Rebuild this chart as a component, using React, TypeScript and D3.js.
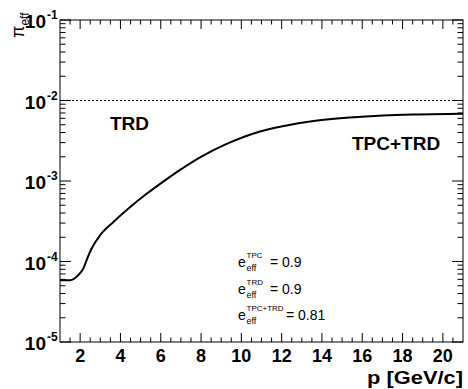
import React from "react";
import * as d3 from "d3";

const momentum = [1.0, 1.5, 1.91, 2.16, 2.32, 2.57, 2.99, 3.65, 4.47, 5.3, 6.21, 6.96, 7.95, 9.27, 10.93, 12.25, 13.41, 15.39, 17.03, 18.72, 21.0];
const piEff = [5.87e-5, 5.87e-5, 6.78e-5, 8.2e-5, 1.04e-4, 1.45e-4, 2.12e-4, 3.1e-4, 4.72e-4, 6.93e-4, 1.019e-3, 1.375e-3, 1.965e-3, 2.889e-3, 4.126e-3, 4.9e-3, 5.49e-3, 6.155e-3, 6.52e-3, 6.71e-3, 6.84e-3];
const xTicks = [2, 4, 6, 8, 10, 12, 14, 16, 18, 20];
const yExponents = [-1, -2, -3, -4, -5];
const referenceLevel = 1e-2;
const annotations = [
  { sup: "TPC", value: "= 0.9" },
  { sup: "TRD", value: "= 0.9" },
  { sup: "TPC+TRD", value: "= 0.81" },
];

const W = 468, H = 389;
const L = 60, R = 463, T = 20, B = 342;
const FONT = "'Liberation Sans', Arial, Helvetica, sans-serif";

export default function App() {
  const x = d3.scaleLinear().domain([1, 21]).range([L, R]);
  const y = d3.scaleLog().domain([1e-5, 1e-1]).range([B, T]);

  const line = d3
    .line<number>()
    .x((_, i) => x(momentum[i]))
    .y((d) => y(d))
    .curve(d3.curveMonotoneX);

  const minorX: number[] = [];
  for (let v = 1.5; v < 21; v += 0.5) if (v % 2 !== 0) minorX.push(v);
  const minorY: number[] = [];
  for (let e = -5; e < -1; e++) for (let k = 2; k <= 9; k++) minorY.push(k * Math.pow(10, e));

  return (
    <svg width={W} height={H} style={{ position: "absolute", left: 0, top: 0, background: "#fff" }} fontFamily={FONT}>
      <rect x={0} y={0} width={W} height={H} fill="#fff" />
      <rect x={L} y={T} width={R - L} height={B - T} fill="none" stroke="#000" strokeWidth={1} />
      {xTicks.map((v) => (
        <g key={"xt" + v}>
          <line x1={x(v)} x2={x(v)} y1={B} y2={B - 9} stroke="#000" />
          <line x1={x(v)} x2={x(v)} y1={T} y2={T + 9} stroke="#000" />
          <text x={x(v)} y={362} textAnchor="middle" fontSize={18} fontWeight="bold">{v}</text>
        </g>
      ))}
      {minorX.map((v) => (
        <g key={"xm" + v}>
          <line x1={x(v)} x2={x(v)} y1={B} y2={B - 4.5} stroke="#000" />
          <line x1={x(v)} x2={x(v)} y1={T} y2={T + 4.5} stroke="#000" />
        </g>
      ))}
      {yExponents.map((e) => {
        const yy = y(Math.pow(10, e));
        return (
          <g key={"yt" + e}>
            <line x1={L} x2={L + 11} y1={yy} y2={yy} stroke="#000" />
            <line x1={R} x2={R - 11} y1={yy} y2={yy} stroke="#000" />
            <text x={46} y={yy + 8} textAnchor="end" fontSize={19} fontWeight="bold">10</text>
            <text x={47} y={yy - 1} textAnchor="start" fontSize={12} fontWeight="bold">{e}</text>
          </g>
        );
      })}
      {minorY.map((v, i) => (
        <g key={"ym" + i}>
          <line x1={L} x2={L + 5.5} y1={y(v)} y2={y(v)} stroke="#000" />
          <line x1={R} x2={R - 5.5} y1={y(v)} y2={y(v)} stroke="#000" />
        </g>
      ))}
      <line x1={L} x2={R} y1={y(referenceLevel)} y2={y(referenceLevel)} stroke="#000" strokeWidth={1} strokeDasharray="2,2" />
      <path d={line(piEff) || ""} fill="none" stroke="#000" strokeWidth={2} />
      <text x={110} y={130} fontSize={19} fontWeight="bold">TRD</text>
      <text x={352} y={150} fontSize={19} fontWeight="bold">TPC+TRD</text>
      <text x={463} y={384} textAnchor="end" fontSize={19} fontWeight="bold" textLength={96} lengthAdjust="spacingAndGlyphs">p [GeV/c]</text>
      <g transform="translate(24,38) rotate(-90)">
        <text x={0} y={0} fontSize={18}>
          π<tspan fontSize={12} dy={5}>eff</tspan>
        </text>
      </g>
      {annotations.map((a, i) => {
        const by = 267 + i * 26.5;
        return (
          <g key={"an" + i}>
            <text x={238} y={by} fontSize={14}>e</text>
            <text x={246.5} y={by + 4} fontSize={9}>eff</text>
            <text x={246.5} y={by - 9} fontSize={8}>{a.sup}</text>
            <text x={i === 2 ? 286 : 270} y={by} fontSize={14}>{a.value}</text>
          </g>
        );
      })}
    </svg>
  );
}
